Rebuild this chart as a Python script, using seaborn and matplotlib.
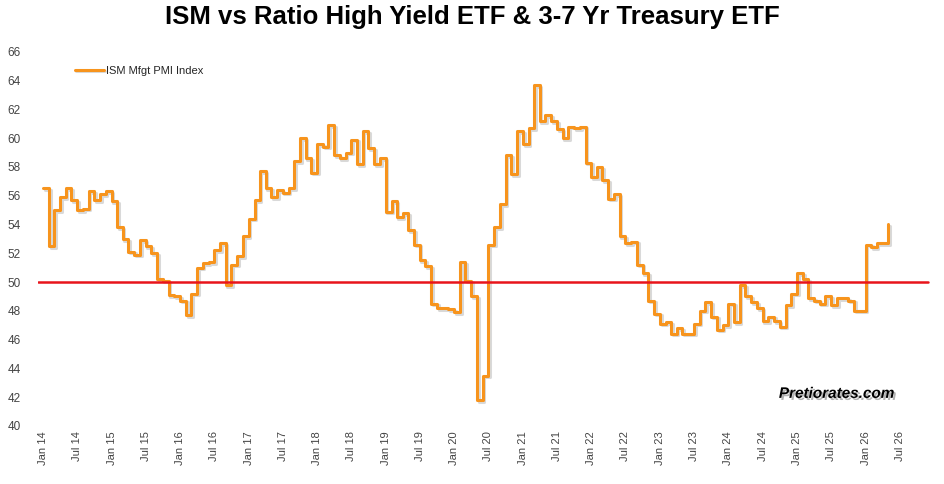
import pandas as pd
import seaborn as sns
import matplotlib.pyplot as plt
import matplotlib.dates as mdates
import matplotlib.patheffects as pe

# ISM manufacturing PMI, monthly from Jan 2014
pmi_values = [
    56.5, 52.5, 55.0, 55.9, 56.5, 55.7, 55.0, 55.1, 56.3, 55.7, 56.1,
    56.3, 55.6, 53.8, 53.0, 52.1, 51.9, 52.9, 52.5, 52.0, 50.2, 50.1, 49.1,
    49.0, 48.7, 47.7, 49.2, 51.0, 51.3, 51.4, 52.2, 52.7, 49.8, 51.2, 51.8,
    53.2, 54.4, 55.7, 57.7, 56.5, 55.9, 56.4, 56.2, 56.5, 58.4, 60.0, 58.6,
    57.6, 59.6, 59.4, 60.9, 58.8, 58.6, 59.0, 59.9, 58.2, 60.5, 59.3, 58.2,
    58.6, 54.9, 55.6, 54.5, 54.8, 53.6, 52.6, 51.5, 51.1, 48.5, 48.2, 48.2,
    48.1, 47.9, 51.4, 50.1, 49.0, 41.8, 43.5, 52.6, 53.8, 55.4, 58.8,
    57.5, 60.5, 59.6, 60.7, 63.7, 61.2, 61.6, 61.2, 60.6, 60.0, 60.8, 60.7,
    60.8, 58.3, 57.3, 58.0, 57.1, 55.8, 56.1, 53.2, 52.7, 52.8, 51.2, 50.6,
    48.7, 47.8, 47.1, 47.2, 46.4, 46.8, 46.4, 46.4, 47.1, 48.0, 48.6, 47.6,
    46.7, 47.0, 48.5, 47.2, 49.8, 49.0, 48.6, 48.2, 47.3, 47.6, 47.3, 46.9,
    48.4, 49.2, 50.6, 50.2, 48.9, 48.7, 48.5, 49.0, 48.4, 48.9, 48.9,
    48.7, 48.0, 48.0, 52.6, 52.4, 52.7, 52.7, 54.0,
]
dates = pd.date_range("2014-01-01", periods=len(pmi_values), freq="MS")
df = pd.DataFrame({"date": dates, "pmi": pmi_values})

threshold = 50
tick_dates = pd.date_range("2014-01-01", "2026-07-01", freq="6MS")

sns.set_style("white")
plt.rcParams['font.family'] = ['Liberation Sans', 'DejaVu Sans']

fig = plt.figure(figsize=(9.45, 4.84), dpi=100)
ax = fig.add_axes([0.04, 0.12, 0.949, 0.773])

sns.lineplot(data=df, x="date", y="pmi", ax=ax, color="#F7941D", linewidth=2.2,
             drawstyle="steps-post", label="ISM Mfgt PMI Index",
             path_effects=[pe.SimpleLineShadow(offset=(1.2, -1.2), alpha=0.15), pe.Normal()])
ax.axhline(threshold, color="#E8141B", linewidth=1.8, xmin=0.0, xmax=0.993)

ax.set_ylim(40, 66)
ax.set_yticks(range(40, 67, 2))
ax.set_xlim(pd.Timestamp("2013-12-04"), pd.Timestamp("2027-01-04"))
ax.set_xticks(tick_dates)
ax.xaxis.set_major_formatter(mdates.DateFormatter("%b %y"))
ax.tick_params(axis="x", rotation=90, labelsize=8, colors="#444444", length=0, pad=4)
ax.tick_params(axis="y", labelsize=8.5, colors="#444444", length=0, pad=4)
for lbl in ax.get_yticklabels():
    lbl.set_horizontalalignment("left")
ax.yaxis.set_tick_params(pad=22)
ax.set_xlabel("")
ax.set_ylabel("")
sns.despine(ax=ax, left=True, bottom=True)

ax.legend(loc="upper left", bbox_to_anchor=(0.03, 0.99), frameon=False, fontsize=8,
          handlelength=2.6, handletextpad=0.2)

fig.suptitle("ISM vs Ratio High Yield ETF & 3-7 Yr Treasury ETF", fontsize=18.5,
             fontweight="bold", y=0.99, color="black")
ax.text(0.955, 0.075, "Pretiorates.com", transform=ax.transAxes, ha="right",
        fontsize=11, fontweight="bold", style="italic", color="black",
        path_effects=[pe.withSimplePatchShadow(offset=(1.5, -1.5), alpha=0.3)])

fig.savefig("out.png", dpi=100)
